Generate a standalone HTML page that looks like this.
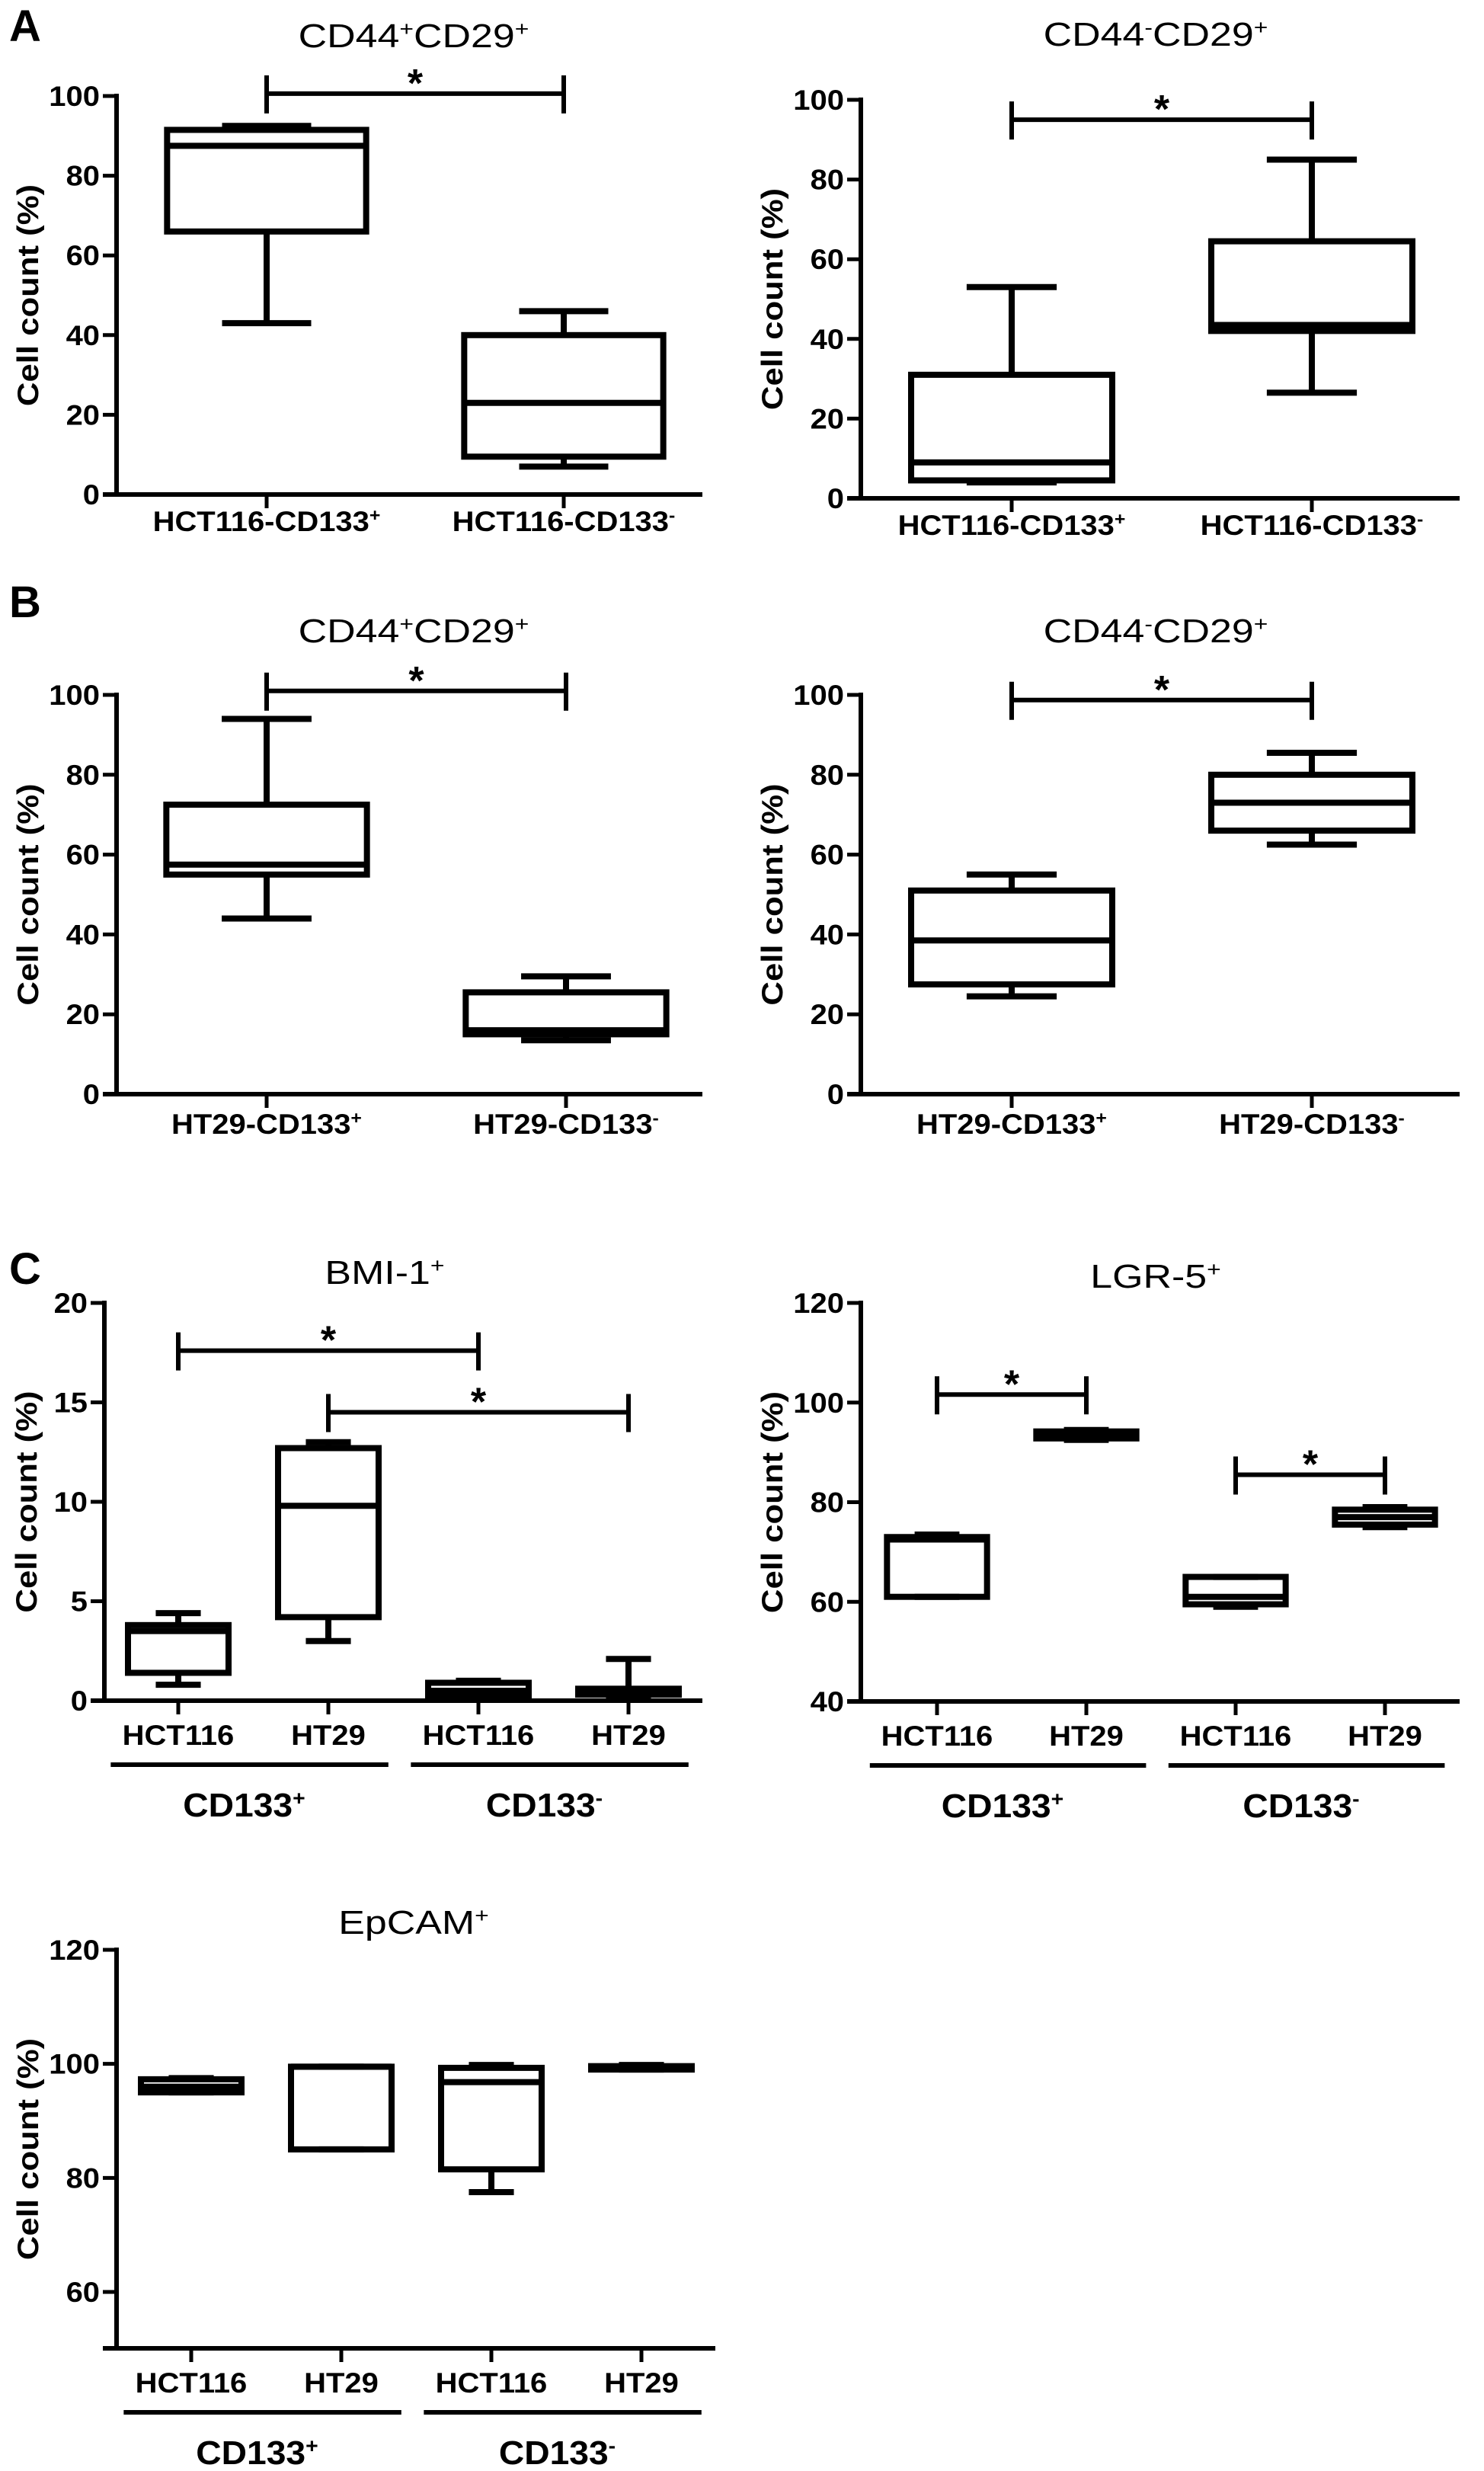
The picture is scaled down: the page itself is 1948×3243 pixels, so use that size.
<!DOCTYPE html>
<html><head><meta charset="utf-8"><style>
html,body{margin:0;padding:0;background:#fff;}
svg{display:block;}
text{font-family:"Liberation Sans",Arial,sans-serif;fill:#000;}
</style></head><body>
<svg id="fig" width="1948" height="3243" viewBox="0 0 1948 3243" xmlns="http://www.w3.org/2000/svg">
<text x="12" y="54" font-size="58" font-weight="bold">A</text>
<text x="12" y="810" font-size="58" font-weight="bold">B</text>
<text x="12" y="1685" font-size="58" font-weight="bold">C</text>
</svg>
<script>
// ---- Data ----
const a1Cats = ["HCT116-CD133^+", "HCT116-CD133^-"];
const a1Min = [43, 7]; const a1Q1 = [66, 9.5]; const a1Med = [87.5, 23]; const a1Q3 = [91.5, 40]; const a1Max = [92.5, 46];
const a1Sig = [[0, 1, 100.6]];

const a2Cats = ["HCT116-CD133^+", "HCT116-CD133^-"];
const a2Min = [4, 26.5]; const a2Q1 = [4.5, 42]; const a2Med = [9, 43.5]; const a2Q3 = [31, 64.5]; const a2Max = [53, 85];
const a2Sig = [[0, 1, 95]];

const b1Cats = ["HT29-CD133^+", "HT29-CD133^-"];
const b1Min = [44, 13.5]; const b1Q1 = [55, 15]; const b1Med = [57.5, 16]; const b1Q3 = [72.5, 25.5]; const b1Max = [94, 29.5];
const b1Sig = [[0, 1, 101]];

const b2Cats = ["HT29-CD133^+", "HT29-CD133^-"];
const b2Min = [24.5, 62.5]; const b2Q1 = [27.5, 66]; const b2Med = [38.5, 73]; const b2Q3 = [51, 80]; const b2Max = [55, 85.5];
const b2Sig = [[0, 1, 98.7]];

const cCats = ["HCT116", "HT29", "HCT116", "HT29"];
const cGroups = ["CD133^+", "CD133^-"];

const c1Min = [0.8, 3.0, 0.1, 0.2]; const c1Q1 = [1.4, 4.2, 0.2, 0.3]; const c1Med = [3.5, 9.8, 0.5, 0.5]; const c1Q3 = [3.8, 12.7, 0.9, 0.6]; const c1Max = [4.4, 13.0, 1.0, 2.1];
const c1Sig = [[0, 2, 17.6], [1, 3, 14.5]];

const c2Min = [61, 92.5, 59, 75]; const c2Q1 = [61, 92.8, 59.5, 75.5]; const c2Med = [72.5, 93.5, 61, 77]; const c2Q3 = [73, 94.2, 65, 78.5]; const c2Max = [73.5, 94.5, 65, 79];
const c2Sig = [[0, 1, 101.6], [2, 3, 85.5]];

const c3Min = [95, 85, 77.5, 99]; const c3Q1 = [95, 85, 81.5, 99]; const c3Med = [96, 99.5, 96.8, 99.3]; const c3Q3 = [97.3, 99.5, 99.3, 99.6]; const c3Max = [97.5, 99.5, 99.8, 99.8];
const c3Sig = [];

const yTicksA = [0, 20, 40, 60, 80, 100];
const yTicksC1 = [0, 5, 10, 15, 20];
const yTicksC2 = [40, 60, 80, 100, 120];
const yTicksC3 = [60, 80, 100, 120];

// ---- Layout ----
const NS = "http://www.w3.org/2000/svg";
const svg = document.getElementById("fig");
const STR = 8;

function mk(tag, attrs, parent) {
  const e = document.createElementNS(NS, tag);
  for (const k in attrs) e.setAttribute(k, attrs[k]);
  (parent || svg).appendChild(e);
  return e;
}
function stretch(t, f) {
  const w = t.getComputedTextLength();
  t.setAttribute("textLength", (w * f).toFixed(1));
  t.setAttribute("lengthAdjust", "spacingAndGlyphs");
}
function labelText(parent, str, x, y, size, weight, f) {
  const t = mk("text", {x: x, y: y, "font-size": size, "font-weight": weight, "text-anchor": "middle"}, parent);
  const parts = str.split("^");
  parts.forEach((p, k) => {
    if (k === 0) { if (p) t.appendChild(document.createTextNode(p)); return; }
    const s = mk("tspan", {"baseline-shift": "super", "font-size": Math.round(size * 0.62)}, t);
    s.textContent = p.charAt(0);
    const rest = p.slice(1);
    if (rest) { const r = mk("tspan", {"font-size": size}, t); r.textContent = rest; }
  });
  stretch(t, f);
  return t;
}

function panel(cfg) {
  const g = mk("g", {});
  
  
  const ys = v => cfg.yBot - (v - cfg.dMin) / (cfg.dMax - cfg.dMin) * (cfg.yBot - cfg.yTop);
  const xs = i => cfg.ax + cfg.off + i * cfg.step;
  const axBot = cfg.axBot !== undefined ? cfg.axBot : cfg.yBot;

  const tt = labelText(g, cfg.title, cfg.titleX, cfg.titleY, 44, "normal", 1.18);
  
  

  const ya = mk("line", {x1: cfg.ax, y1: ys(cfg.dMax) - 3, x2: cfg.ax, y2: axBot, stroke: "#000", "stroke-width": 6}, g);
  
  
  const xa = mk("line", {x1: cfg.ax - 18, y1: axBot, x2: cfg.axEnd, y2: axBot, stroke: "#000", "stroke-width": 6}, g);
  
  

  cfg.ticks.forEach(v => {
    const tl = mk("line", {x1: cfg.ax - 18, y1: ys(v), x2: cfg.ax, y2: ys(v), stroke: "#000", "stroke-width": 5}, g);
    
    
    const t = mk("text", {x: cfg.ax - 22, y: ys(v) + 13, "font-size": 37, "font-weight": "bold", "text-anchor": "end"}, g);
    t.textContent = String(v);
    stretch(t, 1.08);
    
    
  });

  const cy = (cfg.yTop + axBot) / 2;
  const yt = mk("text", {x: 0, y: 0, "font-size": 39, "font-weight": "bold", "text-anchor": "middle", transform: "translate(" + cfg.ytX + "," + cy + ") rotate(-90)"}, g);
  yt.textContent = "Cell count (%)";
  stretch(yt, 1.12);
  
  

  cfg.cats.forEach((c, i) => {
    const tk = mk("line", {x1: xs(i), y1: axBot, x2: xs(i), y2: axBot + 18, stroke: "#000", "stroke-width": 5}, g);
    
    
    const t = labelText(g, c, xs(i), axBot + cfg.catDy, 37, "bold", 1.08);
    
    
  });

  if (cfg.groups) {
    cfg.groups.forEach((gl, k) => {
      const x1 = xs(2 * k) - cfg.step * 0.45, x2 = xs(2 * k + 1) + cfg.step * 0.4;
      const l = mk("line", {x1: x1, y1: axBot + 84, x2: x2, y2: axBot + 84, stroke: "#000", "stroke-width": 6}, g);
      
      
      const t = labelText(g, gl, (xs(2 * k) + xs(2 * k + 1)) / 2 - 12, axBot + 152, 44, "bold", 1.05);
      
      
    });
  }

  const bw = cfg.step * 0.67, cw = cfg.step * 0.3;
  cfg.cats.forEach((c, i) => {
    const bg = mk("g", {}, g);
    
    
    const x = xs(i);
    const st = {stroke: "#000", "stroke-width": STR, fill: "none"};
    mk("line", Object.assign({x1: x, y1: ys(cfg.max[i]), x2: x, y2: ys(cfg.q3[i])}, st), bg);
    mk("line", Object.assign({x1: x, y1: ys(cfg.q1[i]), x2: x, y2: ys(cfg.min[i])}, st), bg);
    mk("line", Object.assign({x1: x - cw / 2, y1: ys(cfg.max[i]), x2: x + cw / 2, y2: ys(cfg.max[i])}, st), bg);
    mk("line", Object.assign({x1: x - cw / 2, y1: ys(cfg.min[i]), x2: x + cw / 2, y2: ys(cfg.min[i])}, st), bg);
    mk("rect", Object.assign({x: x - bw / 2, y: ys(cfg.q3[i]), width: bw, height: Math.max(0.5, ys(cfg.q1[i]) - ys(cfg.q3[i]))}, st), bg);
    mk("line", Object.assign({x1: x - bw / 2, y1: ys(cfg.med[i]), x2: x + bw / 2, y2: ys(cfg.med[i])}, st), bg);
  });

  cfg.sig.forEach(s => {
    const sg = mk("g", {}, g);
    
    
    const y = ys(s[2]), xa1 = xs(s[0]), xa2 = xs(s[1]);
    const st = {stroke: "#000", "stroke-width": 6};
    mk("line", Object.assign({x1: xa1, y1: y, x2: xa2, y2: y}, st), sg);
    mk("line", Object.assign({x1: xa1, y1: y - 24, x2: xa1, y2: y + 26}, st), sg);
    mk("line", Object.assign({x1: xa2, y1: y - 24, x2: xa2, y2: y + 26}, st), sg);
    const t = mk("text", {x: (xa1 + xa2) / 2, y: y + 4, "font-size": 52, "font-weight": "bold", "text-anchor": "middle"}, sg);
    t.textContent = "*";
  });
}

panel({name: "panel-a1-cd44pos", title: "CD44^+CD29^+", titleX: 543, titleY: 62, ax: 153, axEnd: 922, yTop: 126, yBot: 649, dMin: 0, dMax: 100, ticks: yTicksA, off: 197, step: 390, ytX: 50, catDy: 48,
  cats: a1Cats, min: a1Min, q1: a1Q1, med: a1Med, q3: a1Q3, max: a1Max, sig: a1Sig});
panel({name: "panel-a2-cd44neg", title: "CD44^-CD29^+", titleX: 1517, titleY: 60, ax: 1130, axEnd: 1916, yTop: 131, yBot: 654, dMin: 0, dMax: 100, ticks: yTicksA, off: 198, step: 394, ytX: 1027, catDy: 48,
  cats: a2Cats, min: a2Min, q1: a2Q1, med: a2Med, q3: a2Q3, max: a2Max, sig: a2Sig});
panel({name: "panel-b1-cd44pos", title: "CD44^+CD29^+", titleX: 543, titleY: 843, ax: 153, axEnd: 922, yTop: 912, yBot: 1436, dMin: 0, dMax: 100, ticks: yTicksA, off: 197, step: 393, ytX: 50, catDy: 52,
  cats: b1Cats, min: b1Min, q1: b1Q1, med: b1Med, q3: b1Q3, max: b1Max, sig: b1Sig});
panel({name: "panel-b2-cd44neg", title: "CD44^-CD29^+", titleX: 1517, titleY: 843, ax: 1130, axEnd: 1916, yTop: 912, yBot: 1436, dMin: 0, dMax: 100, ticks: yTicksA, off: 198, step: 394, ytX: 1027, catDy: 52,
  cats: b2Cats, min: b2Min, q1: b2Q1, med: b2Med, q3: b2Q3, max: b2Max, sig: b2Sig});
panel({name: "panel-c1-bmi1", title: "BMI-1^+", titleX: 505, titleY: 1685, ax: 137, axEnd: 922, yTop: 1710, yBot: 2232, dMin: 0, dMax: 20, ticks: yTicksC1, off: 97, step: 197, ytX: 48, catDy: 58,
  cats: cCats, groups: cGroups, min: c1Min, q1: c1Q1, med: c1Med, q3: c1Q3, max: c1Max, sig: c1Sig});
panel({name: "panel-c2-lgr5", title: "LGR-5^+", titleX: 1517, titleY: 1690, ax: 1130, axEnd: 1916, yTop: 1710, yBot: 2233, dMin: 40, dMax: 120, ticks: yTicksC2, off: 100, step: 196, ytX: 1027, catDy: 58,
  cats: cCats, groups: cGroups, min: c2Min, q1: c2Q1, med: c2Med, q3: c2Q3, max: c2Max, sig: c2Sig});
panel({name: "panel-c3-epcam", title: "EpCAM^+", titleX: 543, titleY: 2538, ax: 153, axEnd: 939, yTop: 2559, yBot: 3008, dMin: 60, dMax: 120, axBot: 3082, ticks: yTicksC3, off: 98, step: 197, ytX: 50, catDy: 58,
  cats: cCats, groups: cGroups, min: c3Min, q1: c3Q1, med: c3Med, q3: c3Q3, max: c3Max, sig: c3Sig});
</script>
</body></html>
